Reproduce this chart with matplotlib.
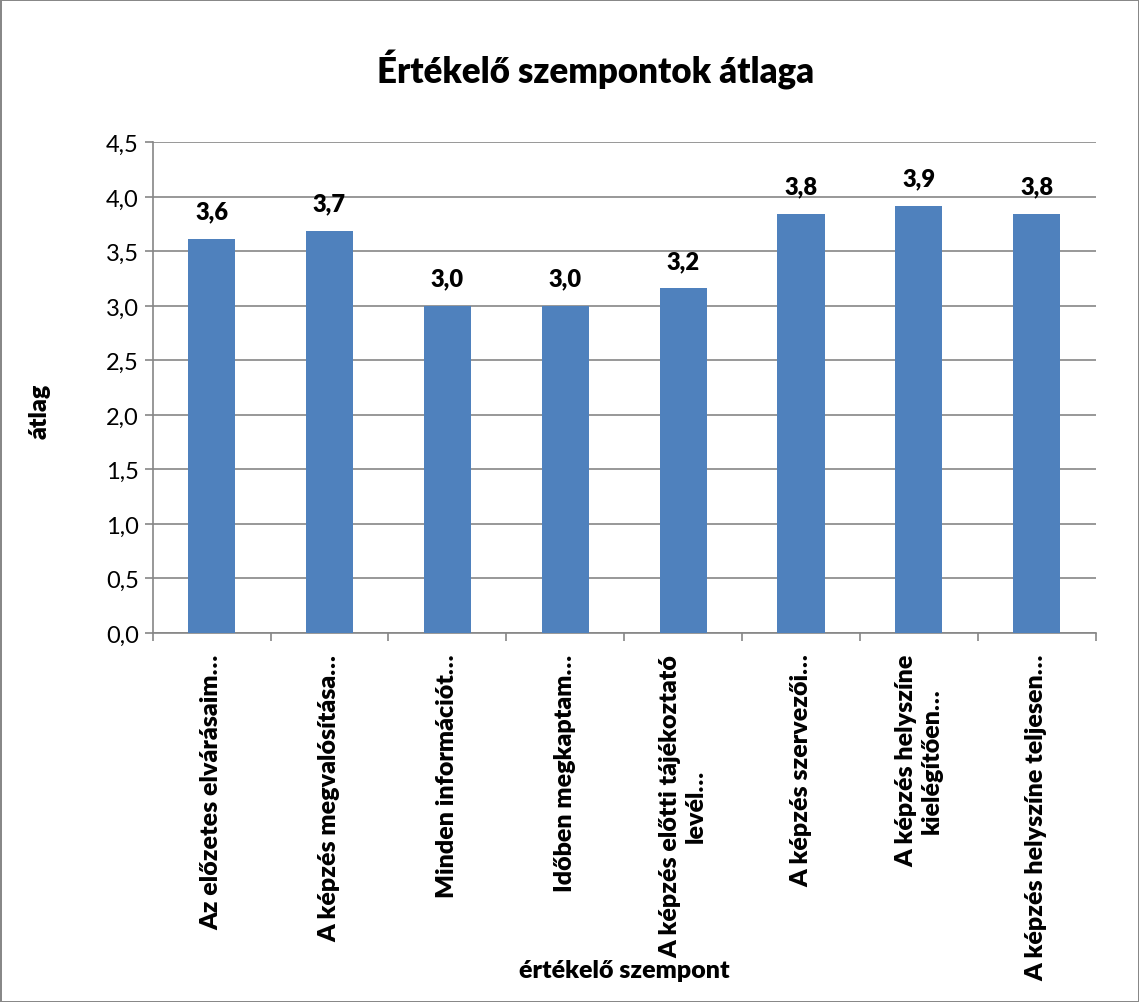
import matplotlib
matplotlib.use("Agg")
import matplotlib.pyplot as plt
from matplotlib.ticker import FuncFormatter, FixedLocator
import numpy as np

plt.rcParams['font.family'] = ['Lato', 'DejaVu Sans']

categories = [
    "Az előzetes elvárásaim…",
    "A képzés megvalósítása…",
    "Minden információt…",
    "Időben megkaptam…",
    "A képzés előtti tájékoztató\nlevél…",
    "A képzés szervezői…",
    "A képzés helyszíne\nkielégítően…",
    "A képzés helyszíne teljesen…",
]
averages = [3.61, 3.69, 3.0, 3.0, 3.16, 3.84, 3.92, 3.84]

bar_color = "#4F81BD"
grid_color = "#868686"
weight = 800

fig = plt.figure(figsize=(11.39, 10.03), dpi=100, edgecolor="#888888", linewidth=2)
ax = fig.add_axes([0.134, 0.368, 0.828, 0.489])

x = np.arange(len(categories))
ax.bar(x, averages, width=0.4, color=bar_color, zorder=3)

for xi, v in zip(x, averages):
    ax.annotate(f"{v:.1f}".replace(".", ","), (xi, v), xytext=(0, 12),
                textcoords="offset points", ha="center", va="bottom",
                fontsize=17, fontweight=weight)

ax.set_ylim(0, 4.5)
ax.set_xlim(-0.5, len(categories) - 0.5)
ax.set_yticks(np.arange(0, 4.51, 0.5))
ax.yaxis.set_major_formatter(FuncFormatter(lambda v, p: f"{v:.1f}".replace(".", ",")))
ax.tick_params(axis="y", labelsize=17, length=6, color=grid_color, width=1.2, pad=4)
ax.yaxis.grid(True, color=grid_color, linewidth=1.2, zorder=0)

# category labels centred, tick marks on the category boundaries
ax.set_xticks(x)
ax.set_xticklabels(categories, rotation=90, fontsize=18, fontweight=weight,
                   ha="center", va="top", multialignment="center")
ax.tick_params(axis="x", length=0, pad=15)
ax.xaxis.set_minor_locator(FixedLocator(np.arange(-0.5, len(categories), 1.0)))
ax.tick_params(axis="x", which="minor", length=6, color=grid_color, width=1.2)

for side in ["top", "right"]:
    ax.spines[side].set_visible(False)
for side in ["left", "bottom"]:
    ax.spines[side].set_color(grid_color)
    ax.spines[side].set_linewidth(1.2)

fig.text(0.523, 0.93, "Értékelő szempontok átlaga", ha="center", va="center",
         fontsize=25, fontweight=weight)
fig.text(0.548, 0.032, "értékelő szempont", ha="center", va="center",
         fontsize=18, fontweight=weight)
fig.text(0.035, 0.59, "átlag", ha="center", va="center", rotation=90,
         fontsize=18, fontweight=weight)

fig.savefig("out.png", dpi=100)
